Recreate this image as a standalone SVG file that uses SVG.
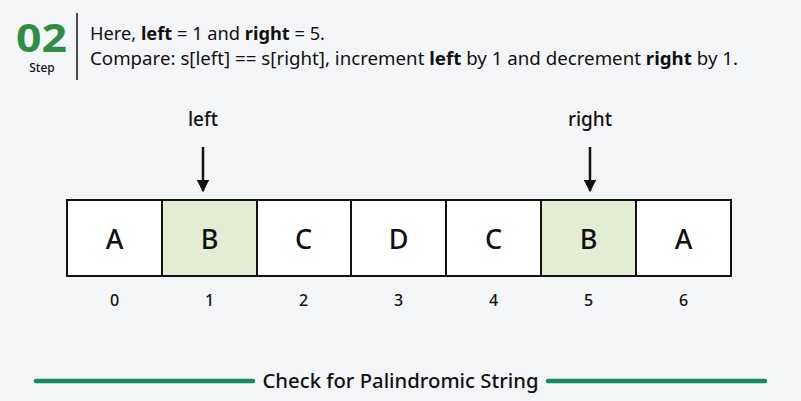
<svg xmlns="http://www.w3.org/2000/svg" width="801" height="401" viewBox="0 0 801 401">
<defs>
<style>
text{font-family:"Noto Sans","Open Sans",sans-serif;fill:#111}
.hd{font-size:17.5px}
.b{font-weight:bold}
.cell{fill:#fff;stroke:#111;stroke-width:2}
.hl{fill:#e3edd3}
.ch{font-size:27px;font-weight:500;text-anchor:middle}
.ix{font-size:16px;font-weight:500;text-anchor:middle}
.ptr{font-size:19px;font-weight:500;text-anchor:middle}
.arr{stroke:#111;stroke-width:2.5;fill:none}
.gl{stroke:#168a60;stroke-width:4.5;stroke-linecap:round}
</style>
<marker id="ah" viewBox="0 0 10 10" refX="9" refY="5" markerWidth="5" markerHeight="5" orient="auto" markerUnits="strokeWidth">
<path d="M0,0 L10,5 L0,10 z" fill="#111"/>
</marker>
</defs>
<rect width="801" height="401" fill="#f4f5f7"/>
<g id="header">
<text x="16" y="52" style="font-size:39px;font-weight:bold;fill:#2f8d46" textLength="51" lengthAdjust="spacingAndGlyphs">02</text>
<text x="42" y="72" style="font-size:12px;font-weight:500;text-anchor:middle">Step</text>
<line x1="77" y1="13" x2="77" y2="80" stroke="#111" stroke-width="1.5"/>
<text class="hd" x="90" y="40" textLength="235" lengthAdjust="spacingAndGlyphs">Here, <tspan class="b">left</tspan> = 1 and <tspan class="b">right</tspan> = 5.</text>
<text class="hd" x="90" y="65" textLength="648" lengthAdjust="spacingAndGlyphs">Compare: s[left] == s[right], increment <tspan class="b">left</tspan> by 1 and decrement <tspan class="b">right</tspan> by 1.</text>
</g>
<g id="cell0"><rect class="cell" x="67" y="200" width="95" height="76"/><text class="ch" x="114.5" y="249">A</text><text class="ix" x="114.5" y="306">0</text></g>
<g id="cell1"><rect class="cell hl" x="162" y="200" width="95" height="76"/><text class="ch" x="209.5" y="249">B</text><text class="ix" x="209.5" y="306">1</text></g>
<g id="cell2"><rect class="cell" x="257" y="200" width="94" height="76"/><text class="ch" x="303.5" y="249">C</text><text class="ix" x="303.5" y="306">2</text></g>
<g id="cell3"><rect class="cell" x="351" y="200" width="95" height="76"/><text class="ch" x="398.5" y="249">D</text><text class="ix" x="398.5" y="306">3</text></g>
<g id="cell4"><rect class="cell" x="446" y="200" width="95" height="76"/><text class="ch" x="493.5" y="249">C</text><text class="ix" x="493.5" y="306">4</text></g>
<g id="cell5"><rect class="cell hl" x="541" y="200" width="95" height="76"/><text class="ch" x="588.5" y="249">B</text><text class="ix" x="588.5" y="306">5</text></g>
<g id="cell6"><rect class="cell" x="636" y="200" width="95" height="76"/><text class="ch" x="683.5" y="249">A</text><text class="ix" x="683.5" y="306">6</text></g>
<g id="ptrLeft"><text class="ptr" x="203" y="126">left</text></g>
<g id="ptrRight"><text class="ptr" x="590" y="126">right</text></g>
<g id="connectors">
<line class="arr" x1="203" y1="147" x2="203" y2="191" marker-end="url(#ah)"/>
<line class="arr" x1="590" y1="147" x2="590" y2="191" marker-end="url(#ah)"/>
</g>
<g id="footer">
<line class="gl" x1="36" y1="381" x2="253" y2="381"/>
<line class="gl" x1="548" y1="381" x2="765" y2="381"/>
<text x="400.5" y="388" style="font-size:20px;font-weight:500;text-anchor:middle" textLength="276" lengthAdjust="spacingAndGlyphs">Check for Palindromic String</text>
</g>
</svg>
